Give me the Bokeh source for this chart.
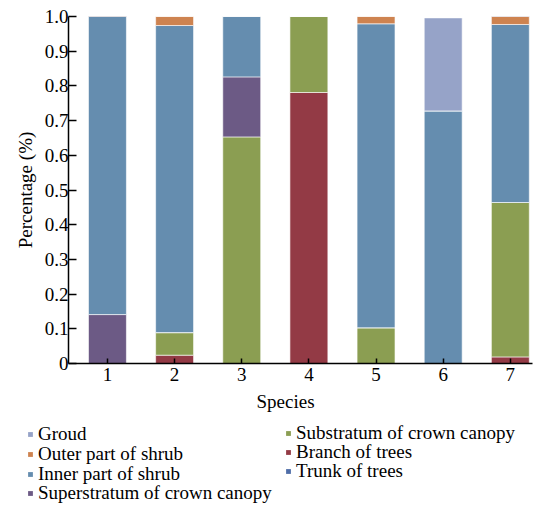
from bokeh.plotting import figure
from bokeh.models import Legend, LegendItem, FixedTicker, Title, ColumnDataSource, Range1d
from bokeh.layouts import column
from bokeh.embed import file_html
from bokeh.resources import INLINE

species = [1, 2, 3, 4, 5, 6, 7]
trunk = [0, 0, 0, 0, 0, 0, 0]
branch = [0, 0.024, 0, 0.781, 0, 0, 0.019]
substratum = [0, 0.065, 0.653, 0.219, 0.103, 0, 0.445]
superstratum = [0.141, 0, 0.173, 0, 0, 0, 0]
inner = [0.862, 0.885, 0.174, 0, 0.876, 0.728, 0.513]
outer = [0, 0.026, 0, 0, 0.021, 0, 0.025]
ground = [0, 0, 0, 0, 0, 0.268, 0]

series_keys = ["trunk", "branch", "substratum", "superstratum", "inner", "outer", "ground"]
series_names = ["Trunk of trees", "Branch of trees", "Substratum of crown canopy",
                "Superstratum of crown canopy", "Inner part of shrub", "Outer part of shrub", "Groud"]
colors = ["#4F6DA8", "#933A45", "#8B9E52", "#6C5A85", "#658DAF", "#CE8350", "#96A3C8"]
legend_col1 = ["Groud", "Outer part of shrub", "Inner part of shrub", "Superstratum of crown canopy"]
legend_col2 = ["Substratum of crown canopy", "Branch of trees", "Trunk of trees"]

y_ticks = [0, 0.1, 0.2, 0.3, 0.4, 0.5, 0.6, 0.7, 0.8, 0.9, 1.0]
y_tick_labels = ["0", "0.1", "0.2", "0.3", "0.4", "0.5", "0.6", "0.7", "0.8", "0.9", "1.0"]

source = ColumnDataSource(dict(species=species, trunk=trunk, branch=branch, substratum=substratum,
                               superstratum=superstratum, inner=inner, outer=outer, ground=ground))

FONT = "Liberation Serif"

p = figure(frame_width=464, frame_height=347, output_backend="svg", toolbar_location=None,
           x_range=Range1d(0.42, 7.33), y_range=Range1d(0, 1.0),
           min_border_left=68, min_border_right=2, min_border_top=16, min_border_bottom=55)
p.frame_align = False
p.outline_line_color = None
p.xgrid.visible = False
p.ygrid.visible = False

renderers = p.vbar_stack(series_keys, x="species", width=0.565, source=source, color=colors,
                         line_color="white", line_alpha=0.6, line_width=1)

for ax in (p.xaxis[0], p.yaxis[0]):
    ax.axis_line_color = "black"
    ax.axis_line_width = 1.5
    ax.major_tick_line_color = "black"
    ax.major_tick_line_width = 1.5
    ax.minor_tick_line_color = None
    ax.major_tick_out = 0
    ax.major_label_text_font = FONT
    ax.major_label_text_font_size = "19px"
    ax.major_label_text_color = "black"
    ax.axis_label_text_font = FONT
    ax.axis_label_text_font_size = "19px"
    ax.axis_label_text_font_style = "normal"
    ax.axis_label_text_color = "black"

p.xaxis.ticker = FixedTicker(ticks=species)
p.xaxis.major_tick_in = 5
p.xaxis.major_label_standoff = 4
p.yaxis.ticker = FixedTicker(ticks=y_ticks)
p.yaxis.major_label_overrides = {t: l for t, l in zip(y_ticks, y_tick_labels)}
p.yaxis.major_tick_in = 8
p.yaxis.major_label_standoff = 0
p.yaxis.axis_label = "Percentage (%)"
p.yaxis.axis_label_standoff = 6

p.add_layout(Title(text="Species", align="left", offset=188, text_font=FONT,
                   text_font_size="19px", text_font_style="normal", text_color="black",
                   standoff=11), "below")

# legend panel below the chart
lg = figure(width=534, height=86, output_backend="svg", toolbar_location=None,
            title_location=None, x_axis_type=None, y_axis_type=None,
            x_range=Range1d(100, 101), y_range=Range1d(0, 1),
            min_border=0, min_border_left=0, min_border_right=0, min_border_top=0, min_border_bottom=0)
lg.frame_align = False
lg.outline_line_color = None
lg.xgrid.visible = False
lg.ygrid.visible = False
proxy = {}
for name, c in zip(series_names, colors):
    # zero-height proxies (outside the visible range) that only supply the legend swatches
    proxy[name] = lg.vbar(x="species", top=0, width=0.5, source=source, fill_color=c, line_color=None)

common = dict(label_text_font=FONT, label_text_font_size="19px", label_text_color="black",
              glyph_width=6, glyph_height=6, label_height=19, label_standoff=5,
              padding=0, margin=0, spacing=0, border_line_color=None, background_fill_alpha=0)

# one single-entry legend per row, so rows can sit closer than the font's line height
col1_x, col1_y = 27, [59, 39, 19, 0]
col2_x, col2_y = 285, [60, 41, 22]
for names, lx, ly in ((legend_col1, col1_x, col1_y), (legend_col2, col2_x, col2_y)):
    for n, yy in zip(names, ly):
        lg.add_layout(Legend(items=[LegendItem(label=n, renderers=[proxy[n]])],
                             location=(lx, yy), **common), "center")

layout = column(p, lg, spacing=0)
open("out.html", "w").write(file_html(layout, INLINE))
